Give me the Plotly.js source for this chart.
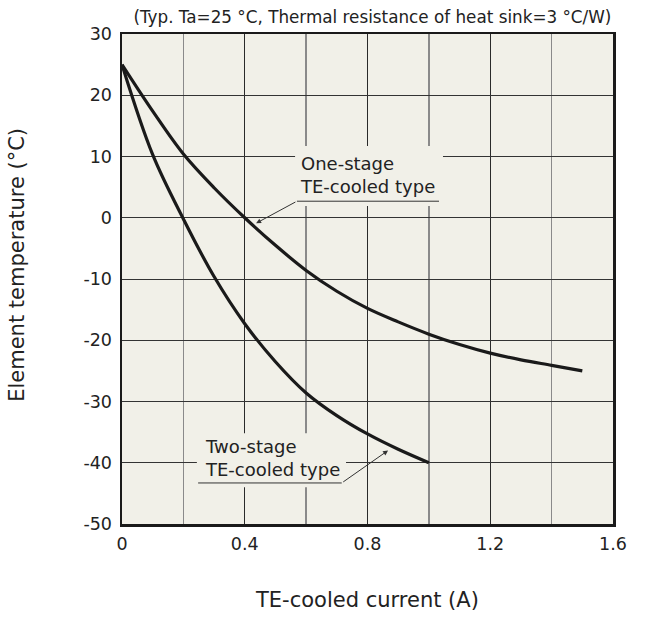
<!DOCTYPE html>
<html>
<head>
<meta charset="utf-8">
<script src="https://cdn.plot.ly/plotly-3.0.1.min.js"></script>
<style>html,body{margin:0;padding:0;background:#fff;}#chart{width:645px;height:624px;}</style>
</head>
<body>
<div id="chart"></div>
<script>
// One-stage TE-cooled type
const oneX = [0, 0.1, 0.2, 0.3, 0.4, 0.5, 0.6, 0.7, 0.8, 0.9, 1.0, 1.1, 1.2, 1.3, 1.4, 1.5];
const oneY = [25, 17.4, 10.4, 4.9, 0, -4.5, -8.6, -12.0, -14.8, -17.0, -19.0, -20.7, -22.1, -23.2, -24.1, -25.0];
// Two-stage TE-cooled type
const twoX = [0, 0.1, 0.2, 0.3, 0.4, 0.5, 0.6, 0.7, 0.8, 0.9, 1.0];
const twoY = [25, 10.3, -0.2, -9.6, -17.3, -23.5, -28.6, -32.3, -35.3, -37.8, -40];

const xTicks = [0, 0.4, 0.8, 1.2, 1.6];
const xTickText = ['0', '0.4', '0.8', '1.2', '1.6'];
const yTicks = [30, 20, 10, 0, -10, -20, -30, -40, -50];
const yTickText = ['30', '20', '10', '0', '-10', '-20', '-30', '-40', '-50'];

const FONT = 'DejaVu Sans, Tahoma, Verdana, sans-serif';
const BG = '#f1f0e8';
const INK = '#1a1a1a';
const TXT = '#222222';

const traces = [
  {x: oneX, y: oneY, mode: 'lines', line: {color: INK, width: 3.2, shape: 'spline', smoothing: 1}, hoverinfo: 'skip', name: 'One-stage'},
  {x: twoX, y: twoY, mode: 'lines', line: {color: INK, width: 3.2, shape: 'spline', smoothing: 1}, hoverinfo: 'skip', name: 'Two-stage'}
];

const layout = {
  width: 645, height: 624,
  margin: {l: 122, r: 32, t: 34, b: 100},
  paper_bgcolor: '#ffffff',
  plot_bgcolor: BG,
  showlegend: false,
  font: {family: FONT, color: TXT, size: 15},
  title: {
    text: '(Typ. Ta=25 °C, Thermal resistance of heat sink=3 °C/W)',
    font: {family: FONT, size: 16.8, color: TXT},
    x: 0.51, xref: 'paper', xanchor: 'center',
    y: 0.972, yref: 'container', yanchor: 'middle'
  },
  xaxis: {
    range: [0, 1.6], tickvals: xTicks, ticktext: xTickText,
    showgrid: true, gridcolor: '#2a2a2a', gridwidth: 1,
    minor: {dtick: 0.2, showgrid: true, gridcolor: '#8a8a8a', gridwidth: 1.3},
    showline: true, linecolor: INK, linewidth: 2.5, mirror: true,
    ticks: '', zeroline: false, ticklabelstandoff: 2,
    tickfont: {family: FONT, size: 17.5, color: TXT}
  },
  yaxis: {
    range: [-50, 30], tickvals: yTicks, ticktext: yTickText,
    showgrid: true, gridcolor: '#333333', gridwidth: 1,
    showline: true, linecolor: INK, linewidth: 2.5, mirror: true,
    ticks: '', zeroline: false, ticklabelstandoff: 4,
    tickfont: {family: FONT, size: 17.5, color: TXT}
  },
  shapes: [
    // gridline masks behind labels
    {type: 'rect', xref: 'x', yref: 'y', x0: 0.564, x1: 1.046, y0: 1.9, y1: 11.7, fillcolor: BG, line: {width: 0}, layer: 'between'},
    {type: 'rect', xref: 'x', yref: 'y', x0: 0.244, x1: 0.730, y0: -44.0, y1: -35.2, fillcolor: BG, line: {width: 0}, layer: 'between'},
    // underlines
    {type: 'line', xref: 'x', yref: 'y', x0: 0.570, x1: 1.033, y0: 2.7, y1: 2.7, line: {color: '#333', width: 1}},
    {type: 'line', xref: 'x', yref: 'y', x0: 0.248, x1: 0.716, y0: -43.3, y1: -43.3, line: {color: '#333', width: 1}}
  ],
  annotations: [
    // axis titles
    {xref: 'paper', yref: 'paper', x: 0.498, y: 0, xanchor: 'center', yanchor: 'middle', yshift: -76,
     text: 'TE-cooled current (A)', showarrow: false, font: {family: FONT, size: 21, color: TXT}},
    {xref: 'paper', yref: 'paper', x: 0, y: 0.529, xanchor: 'center', yanchor: 'middle', xshift: -105, textangle: -90,
     text: 'Element temperature (°C)', showarrow: false, font: {family: FONT, size: 21, color: TXT}},
    // curve labels
    {xref: 'x', yref: 'y', x: 0.573, y: 6.96, xanchor: 'left', yanchor: 'middle', align: 'left',
     text: 'One-stage<br>TE-cooled type', showarrow: false, font: {family: FONT, size: 18, color: TXT}},
    {xref: 'x', yref: 'y', x: 0.263, y: -39.3, xanchor: 'left', yanchor: 'middle', align: 'left',
     text: 'Two-stage<br>TE-cooled type', showarrow: false, font: {family: FONT, size: 18, color: TXT}},
    // arrows
    {xref: 'x', yref: 'y', axref: 'x', ayref: 'y', x: 0.437, y: -0.9, ax: 0.570, ay: 2.7, text: '',
     showarrow: true, arrowhead: 2, arrowsize: 1, arrowwidth: 1, arrowcolor: '#333', standoff: 0, startstandoff: 0},
    {xref: 'x', yref: 'y', axref: 'x', ayref: 'y', x: 0.867, y: -38.0, ax: 0.716, ay: -43.3, text: '',
     showarrow: true, arrowhead: 2, arrowsize: 1, arrowwidth: 1, arrowcolor: '#333', standoff: 0, startstandoff: 0}
  ]
};

Plotly.newPlot('chart', traces, layout, {displayModeBar: false, staticPlot: true});
</script>
</body>
</html>
